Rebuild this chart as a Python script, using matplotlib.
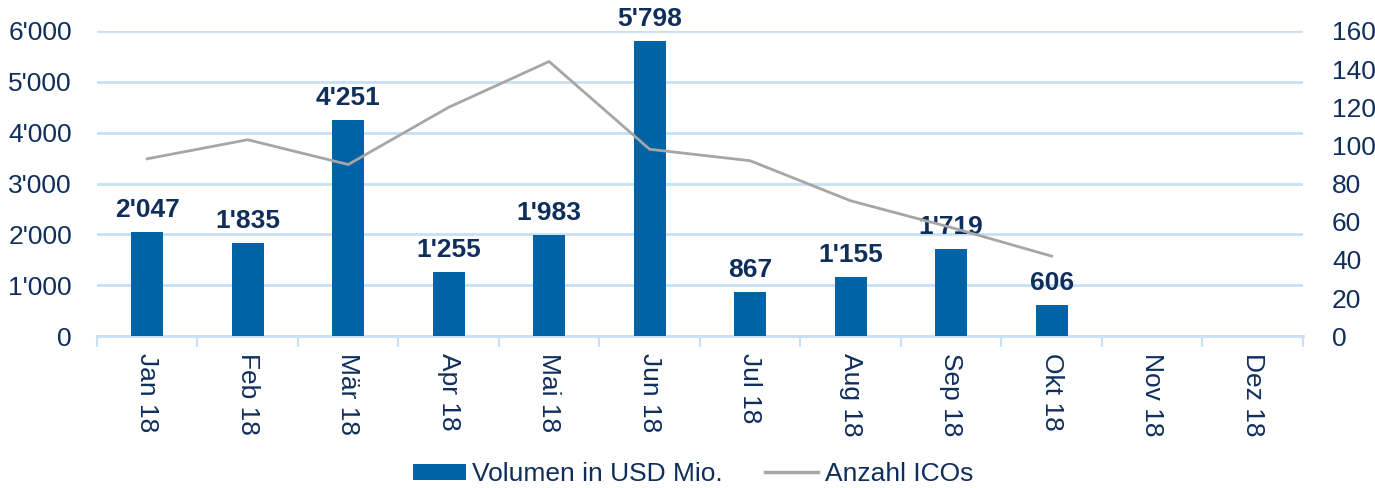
import matplotlib
matplotlib.use("Agg")
import matplotlib.pyplot as plt
from matplotlib.ticker import FuncFormatter
from matplotlib.patches import Patch
from matplotlib.lines import Line2D

# data
months = ["Jan 18", "Feb 18", "Mär 18", "Apr 18", "Mai 18", "Jun 18",
          "Jul 18", "Aug 18", "Sep 18", "Okt 18", "Nov 18", "Dez 18"]
volumen = [2047, 1835, 4251, 1255, 1983, 5798, 867, 1155, 1719, 606]
anzahl = [93, 103, 90, 120, 144, 98, 92, 71, 57, 42]

navy = "#0F2E5C"
bar_col = "#0063A6"
grid_col = "#C6E0F7"
line_col = "#A6A6A6"

plt.rcParams["font.family"] = ["Liberation Sans", "DejaVu Sans"]

fig = plt.figure(figsize=(13.75, 4.88), dpi=100)
ax = fig.add_axes([0.0705, 0.311, 0.877, 0.6255])
ax2 = ax.twinx()

x = list(range(len(months)))
ax.bar(x[:len(volumen)], volumen, width=0.32, color=bar_col, zorder=3)
for xi, v in zip(x, volumen):
    ax.text(xi, v + 200, f"{v:,}".replace(",", "'"), ha="center", va="bottom",
            fontsize=19, fontweight="bold", color=navy, zorder=5)

ax2.plot(x[:len(anzahl)], anzahl, color=line_col, lw=2, zorder=4)

ax.set_xlim(-0.5, len(months) - 0.5)
ax.set_ylim(0, 6000)
ax2.set_ylim(0, 160)
ax.set_yticks(range(0, 6001, 1000))
ax2.set_yticks(range(0, 161, 20))
ax.yaxis.set_major_formatter(FuncFormatter(lambda v, p: f"{int(v):,}".replace(",", "'")))

ax.grid(axis="y", color=grid_col, lw=2, zorder=0)
ax.set_axisbelow(True)
for a in (ax, ax2):
    for s in a.spines.values():
        s.set_visible(False)
    a.tick_params(axis="y", length=0, labelsize=19, labelcolor=navy)
ax.tick_params(axis="y", pad=18)
ax2.tick_params(axis="y", pad=21)

ax.spines["bottom"].set_visible(True)
ax.spines["bottom"].set_color(grid_col)
ax.spines["bottom"].set_linewidth(2)

ax.set_xticks(x)
ax.set_xticklabels(months, rotation=270, fontsize=19, color=navy)
ax.tick_params(axis="x", length=0, pad=12)
ax.set_xticks([i - 0.5 for i in range(len(months) + 1)], minor=True)
ax.tick_params(axis="x", which="minor", length=8, width=1.5, color=grid_col)

handles = [Patch(facecolor=bar_col), Line2D([], [], color=line_col, lw=2.5)]
fig.legend(handles, ["Volumen in USD Mio.", "Anzahl ICOs"], loc="lower center",
           bbox_to_anchor=(0.504, -0.045), ncol=2, frameon=False, fontsize=19,
           labelcolor=navy, handlelength=2.0, handleheight=0.6, handletextpad=0.25,
           columnspacing=1.6)

fig.savefig("out.png", dpi=100)
